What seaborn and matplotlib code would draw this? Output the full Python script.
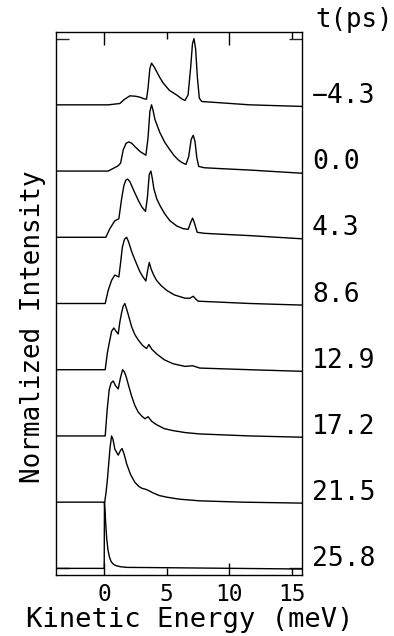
import numpy as np
import pandas as pd
import matplotlib
matplotlib.use("Agg")
import matplotlib.pyplot as plt
import matplotlib.transforms as mtransforms
import seaborn as sns

# ---- data ----
delays = ["\u22124.3", "0.0", "4.3", "8.6", "12.9", "17.2", "21.5", "25.8"]

e_m43 = [-3.85, 0.32, 1.25, 1.6, 2.05, 2.5, 2.85, 3.2, 3.38, 3.5, 3.65, 3.78, 4.0, 4.18, 4.45, 4.71, 5.2,
         5.78, 6.2, 6.45, 6.7, 6.9, 7.05, 7.17, 7.3, 7.45, 7.6, 7.8, 8.98, 11.64, 16.0]
i_m43 = [0, 0, 0.02, 0.08, 0.136, 0.13, 0.116, 0.09, 0.086, 0.25, 0.55, 0.63, 0.57, 0.505, 0.41, 0.33, 0.22,
         0.15, 0.09, 0.066, 0.15, 0.55, 0.92, 1.0, 0.85, 0.4, 0.1, 0.05, 0.035, 0.0, -0.025]

e_0 = [-3.85, 0.32, 0.72, 1.12, 1.31, 1.52, 1.75, 1.97, 2.2, 2.45, 2.9, 3.33, 3.5, 3.65, 3.78, 3.9, 4.05,
       4.45, 4.85, 5.25, 5.6, 5.91, 6.2, 6.53, 6.75, 6.95, 7.11, 7.25, 7.4, 7.55, 8.0, 8.98, 11.64, 16.0]
i_0 = [0, 0, 0.04, 0.08, 0.12, 0.32, 0.42, 0.44, 0.42, 0.37, 0.29, 0.24, 0.5, 0.9, 1.0, 0.92, 0.78,
       0.58, 0.43, 0.32, 0.23, 0.17, 0.13, 0.10, 0.22, 0.48, 0.54, 0.45, 0.2, 0.07, 0.05, 0.04, 0.015, -0.035]

e_43 = [-3.85, 0.13, 0.45, 0.85, 1.17, 1.39, 1.57, 1.72, 1.87, 2.05, 2.19, 2.45, 2.72, 3.0, 3.3, 3.45, 3.6,
        3.73, 3.85, 3.97, 4.2, 4.45, 4.85, 5.25, 5.8, 6.31, 6.71, 6.9, 7.06, 7.2, 7.43, 8.0, 8.98, 11.64, 16.0]
i_43 = [0, 0, 0.13, 0.25, 0.28, 0.58, 0.78, 0.86, 0.88, 0.84, 0.78, 0.67, 0.56, 0.46, 0.39, 0.6, 0.95,
        1.0, 0.88, 0.73, 0.58, 0.48, 0.35, 0.25, 0.17, 0.13, 0.12, 0.22, 0.29, 0.22, 0.075, 0.06, 0.05, 0.025, -0.025]

e_86 = [-3.85, 0.08, 0.32, 0.59, 0.85, 1.17, 1.3, 1.45, 1.62, 1.79, 1.95, 2.2, 2.45, 2.85, 3.1, 3.33, 3.47,
        3.6, 3.75, 3.95, 4.18, 4.55, 4.98, 5.6, 6.45, 6.85, 7.11, 7.3, 7.51, 11.64, 16.0]
i_86 = [0, 0, 0.2, 0.35, 0.43, 0.40, 0.6, 0.85, 0.97, 1.0, 0.93, 0.78, 0.66, 0.48, 0.4, 0.34, 0.5,
        0.62, 0.52, 0.43, 0.35, 0.27, 0.2, 0.13, 0.08, 0.08, 0.11, 0.07, 0.035, 0.0, -0.025]

e_129 = [-3.85, 0.08, 0.25, 0.4, 0.59, 0.77, 0.95, 1.12, 1.25, 1.39, 1.52, 1.65, 1.85, 2.19, 2.45, 2.72,
         3.05, 3.38, 3.57, 3.8, 4.18, 4.8, 5.51, 6.45, 7.06, 7.64, 11.64, 16.0]
i_129 = [0, 0, 0.25, 0.4, 0.58, 0.63, 0.58, 0.54, 0.72, 0.86, 0.96, 1.0, 0.88, 0.65, 0.53, 0.45,
         0.37, 0.32, 0.38, 0.31, 0.24, 0.15, 0.09, 0.05, 0.06, 0.025, 0.0, -0.025]

e_172 = [-3.85, 0.08, 0.16, 0.24, 0.4, 0.55, 0.72, 0.9, 1.12, 1.3, 1.47, 1.6, 1.73, 1.95, 2.19, 2.45, 2.72,
         3.0, 3.25, 3.51, 3.8, 4.18, 4.8, 5.51, 6.5, 7.64, 11.64, 16.0]
i_172 = [0, 0, 0.2, 0.4, 0.70, 0.8, 0.83, 0.76, 0.71, 0.88, 1.0, 0.97, 0.91, 0.76, 0.60, 0.46, 0.36,
         0.3, 0.26, 0.29, 0.22, 0.17, 0.11, 0.08, 0.05, 0.03, 0.0, -0.02]

e_215 = [-3.85, 0.04, 0.15, 0.25, 0.37, 0.47, 0.59, 0.7, 0.85, 1.12, 1.3, 1.43, 1.6, 1.79, 2.1, 2.45, 2.75,
         3.0, 3.38, 3.6, 3.9, 4.4, 4.98, 6.0, 7.64, 11.0, 16.0]
i_215 = [0, 0, 0.15, 0.33, 0.6, 0.83, 1.0, 0.95, 0.8, 0.71, 0.78, 0.81, 0.72, 0.58, 0.42, 0.30, 0.24,
         0.21, 0.19, 0.17, 0.14, 0.1, 0.076, 0.045, 0.02, 0.0, -0.015]

e_258 = [-3.85, 0.0, 0.02, 0.07, 0.12, 0.2, 0.3, 0.42, 0.56, 0.75, 0.96, 1.3, 1.8, 5.0, 16.0]
i_258 = [0, 0, 1.0, 0.85, 0.68, 0.45, 0.28, 0.17, 0.10, 0.06, 0.04, 0.025, 0.015, 0.01, -0.01]

energies = [e_m43, e_0, e_43, e_86, e_129, e_172, e_215, e_258]
intensities = [i_m43, i_0, i_43, i_86, i_129, i_172, i_215, i_258]
offsets = [7, 6, 5, 4, 3, 2, 1, 0]

xtick_major = [0, 10]
xtick_minor = [5, 15]

frames = []
for lab, e, inten, off in zip(delays, energies, intensities, offsets):
    frames.append(pd.DataFrame({"E": e, "y": np.array(inten) + off, "t": lab}))
df = pd.concat(frames, ignore_index=True)

# ---- figure ----
sns.set_style("ticks")
plt.rcParams["font.family"] = ["DejaVu Sans Mono", "DejaVu Sans"]

fig = plt.figure(figsize=(3.94, 6.36), dpi=100)
ax = fig.add_axes([56 / 394, 1 - 575 / 636, 246 / 394, 543 / 636])

sns.lineplot(data=df, x="E", y="y", hue="t", hue_order=delays,
             palette=["black"] * len(delays), estimator=None, sort=False,
             legend=False, linewidth=1.0, ax=ax)

ax.set_xlim(-3.85, 15.8)
ax.set_ylim(-0.10, 8.10)
ax.set_xlabel("")
ax.set_ylabel("")

for s in ax.spines.values():
    s.set_visible(True)
    s.set_linewidth(1.0)
    s.set_color("black")

ax.set_xticks(xtick_major)
ax.set_xticks(xtick_minor, minor=True)
ax.set_xticklabels([str(v) for v in xtick_major])
ax.set_xticklabels([str(v) for v in xtick_minor], minor=True)
ax.set_yticks([0, 8])
ax.set_yticklabels([])
ax.tick_params(axis="x", which="major", direction="in", length=9, width=1,
               top=True, bottom=True, labelsize=16.5, pad=6, colors="black")
ax.tick_params(axis="x", which="minor", direction="in", length=5, width=1,
               top=True, bottom=True, labelsize=16.5, pad=6, colors="black")
ax.tick_params(axis="y", which="major", direction="in", length=9.5, width=1,
               left=True, right=True, labelleft=False)

trans = mtransforms.blended_transform_factory(ax.transAxes, ax.transData)
for lab, off in zip(delays, offsets):
    ax.text(1 + 10 / 246, off + 0.03, lab, transform=trans, ha="left",
            va="baseline", fontsize=19, color="black", clip_on=False)
ax.text(1 + 13 / 246, 8.17, "t(ps)", transform=trans, ha="left",
        va="baseline", fontsize=18.5, color="black", clip_on=False)

fig.text(190 / 394, 1 - 627 / 636, "Kinetic Energy (meV)", ha="center",
         va="baseline", fontsize=19.5, color="black")
fig.text(33 / 394, 1 - 326.5 / 636, "Normalized Intensity", ha="center",
         va="center", rotation=90, fontsize=18.7, color="black")

fig.savefig("out.png", dpi=100)
